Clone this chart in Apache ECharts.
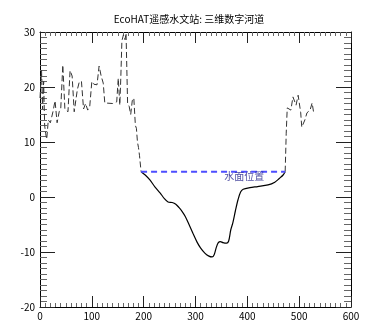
<!DOCTYPE html>
<html><head><meta charset="utf-8">
<script src="https://cdn.jsdelivr.net/npm/echarts@6/dist/echarts.min.js"></script>
<style>html,body{margin:0;padding:0;background:#fff}#c{width:378px;height:336px}</style>
</head><body><div id="c"></div>
<script>
const titleText = "EcoHAT遥感水文站: 三维数字河道";
const xTicks = [0, 100, 200, 300, 400, 500, 600];
const yTicks = [-20, -10, 0, 10, 20, 30];
const leftBank = [[0,18],[3,23],[5,16],[7,21],[9,13],[11,11.5],[13,10.5],[16,14],[20,13.5],[25,15.5],[29,17.5],[33,13.5],[37,15.5],[40,16],[44,24],[48,16],[54,15.5],[58,23],[62,22],[66,15.5],[72,19.5],[76,21],[80,21],[84,16],[88,17],[92,15.8],[96,16.5],[100,21],[104,20.5],[110,20.4],[114,23.8],[118,22],[122,20.7],[125,17.1],[140,17],[148,17.3],[151,21.6],[154,16.7],[156,22],[158,28.4],[161,29.5],[164,28.6],[166,29.8],[169,17],[172,16.5],[175,15],[178,17.5],[181,18],[184,13],[186,12.5],[188,10],[190,9],[192,7.5],[195,4.6]];
const rightBank = [[473,4.6],[474,8],[475,11.6],[477,16.2],[480,16],[484,15.8],[488,18.2],[491,18],[494,16.7],[498,18.5],[500,18.5],[503,15.3],[505,12.7],[508,13],[511,14],[515,15.3],[521,15.8],[525,17.1],[528,15.3]];
const riverBed = [[195,4.6],[203,4],[212,3.1],[222,1.8],[232,0.7],[240,-0.3],[247,-0.9],[255,-1.0],[262,-1.3],[268,-1.9],[274,-2.6],[280,-3.5],[286,-4.7],[295,-6.6],[303,-8.2],[310,-9.3],[318,-10.2],[325,-10.7],[332,-10.9],[336,-10.5],[340,-9.2],[344,-8.3],[348,-8.1],[353,-8.3],[360,-8.4],[364,-8.0],[368,-6],[372,-4.7],[377,-2.5],[382,-0.5],[387,0.9],[392,1.4],[405,1.7],[420,1.9],[440,2.2],[453,2.7],[462,3.4],[469,4],[473,4.6]];
const waterLevel = [[195,4.6],[473,4.6]];
const waterLabel = "水面位置";
const waterLabelPos = [[394,4.6]];

const chart = echarts.init(document.getElementById('c'));
const font = 'Noto Sans CJK SC';
function xAx(pos, showLabel){
  return {type:'value', position:pos, min:0, max:600, interval:100,
    axisLine:{show:true, onZero:false, lineStyle:{color:'#000', width:1}},
    axisTick:{show:true, inside:true, length:11, lineStyle:{color:'#222'}},
    minorTick:{show:true, splitNumber:10, length:4, lineStyle:{color:'#666'}},
    splitLine:{show:false},
    axisLabel:{show:showLabel, color:'#000', fontSize:10, fontFamily:font, margin:4,
      formatter:v=>xTicks.includes(v)?String(v):''}};
}
function yAx(pos, showLabel){
  return {type:'value', position:pos, min:-20, max:30, interval:10,
    axisLine:{show:true, onZero:false, lineStyle:{color:'#000', width:1}},
    axisTick:{show:true, inside:true, length:15, lineStyle:{color:'#222'}},
    minorTick:{show:true, splitNumber:10, length:7, lineStyle:{color:'#666'}},
    splitLine:{show:false},
    axisLabel:{show:showLabel, color:'#000', fontSize:10, fontFamily:font, margin:5,
      formatter:v=>yTicks.includes(v)?String(v):''}};
}
chart.setOption({
  animation:false,
  title:{text:titleText, left:'center', top:9, textStyle:{fontSize:10, fontWeight:'normal', color:'#000', fontFamily:font}},
  grid:{left:40, right:27, top:32, bottom:29},
  xAxis:[xAx('bottom', true), xAx('top', false)],
  yAxis:[yAx('left', true), yAx('right', false)],
  series:[
    {type:'line', data:leftBank, symbol:'none', lineStyle:{color:'#333', width:1, type:[6,3]}},
    {type:'line', data:rightBank, symbol:'none', lineStyle:{color:'#333', width:1, type:[6,3]}},
    {type:'line', data:riverBed, symbol:'none', smooth:0.3, lineStyle:{color:'#000', width:1.2}},
    {type:'line', data:waterLevel, symbol:'none', lineStyle:{color:'#4d4dff', width:2, type:[6,4]}},
    {type:'scatter', data:waterLabelPos, symbolSize:0, silent:true, z:5,
      label:{show:true, position:'inside', offset:[0,5], formatter:waterLabel, color:'#22228a', fontSize:10, fontFamily:font}}
  ]
});
</script></body></html>
